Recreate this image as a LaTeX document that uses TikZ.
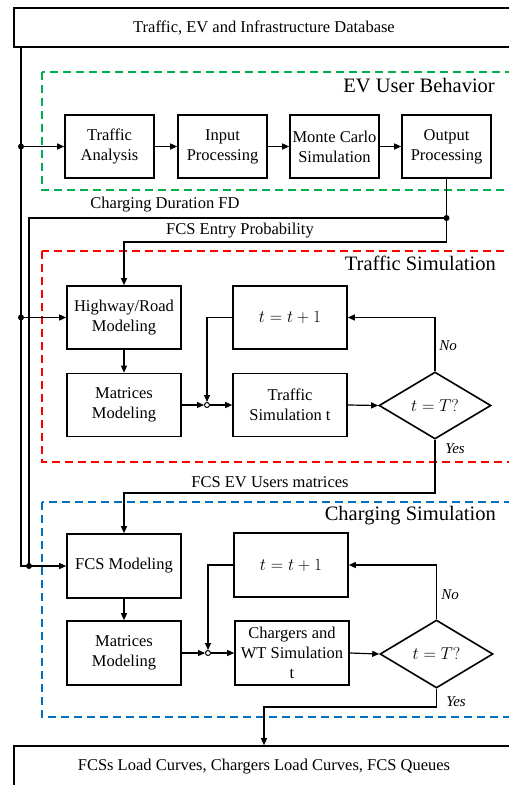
\documentclass[tikz,border=0pt]{standalone}
\usepackage{fontspec}
\setmainfont{Liberation Serif}
\usetikzlibrary{shapes.geometric,arrows.meta}
\definecolor{grpgreen}{RGB}{0,176,80}
\definecolor{grpred}{RGB}{255,0,0}
\definecolor{grpblue}{RGB}{0,112,192}
\begin{document}
\begin{tikzpicture}[x=1bp,y=-1bp,
  txt/.style={font=\fontsize{16.5bp}{20bp}\selectfont},
  mth/.style={font=\fontsize{17.5bp}{20bp}\selectfont},
  box/.style={txt,draw,line width=1.6bp,minimum width=114bp,minimum height=63bp,inner sep=1bp,align=center},
  sbox/.style={box,minimum width=89bp},
  wide/.style={txt,draw,line width=1.6bp,minimum width=500bp,inner sep=0pt},
  dec/.style={mth,draw,diamond,line width=1.6bp,minimum width=112bp,minimum height=67bp,inner sep=0pt},
  group/.style={dashed,line width=2bp,dash pattern=on 8bp off 5bp},
  title/.style={font=\fontsize{20.5bp}{24bp}\selectfont,anchor=east,inner sep=0pt},
  lbl/.style={txt,inner sep=0pt},
  yn/.style={font=\fontsize{15bp}{18bp}\selectfont\itshape,inner sep=0pt},
  conn/.style={line width=1.2bp},
  arr/.style={conn,-{Triangle[length=7bp,width=6bp]}},
  merge/.style={draw,circle,line width=1bp,fill=white,minimum size=5bp,inner sep=0pt},
  jdot/.style={fill,circle,inner sep=0pt,minimum size=6bp}
]
\clip (0,0) rectangle (509,785);

% group frames
\draw[group,grpgreen] (42,72) rectangle (530,190);
\draw[group,grpred]   (42,251) rectangle (530,462);
\draw[group,grpblue]  (42,502) rectangle (530,717);
\node[title] (tEV) at (495,86) {EV User Behavior};
\node[title] (tTS) at (496,263) {Traffic Simulation};
\node[title] (tCS) at (496,516) {Charging Simulation};

% database and results
\node[wide,minimum height=39bp] (db) at (264,27.5) {Traffic, EV and Infrastructure Database};
\node[wide,minimum height=42bp] (out) at (264,767) {FCSs Load Curves, Chargers Load Curves, FCS Queues};

% EV user behaviour chain
\node[sbox] (ta) at (109.5,146.5) {Traffic\\Analysis};
\node[sbox] (ip) at (222.5,146.5) {Input\\Processing};
\node[sbox] (mc) at (334.5,146.5) {Monte Carlo\\Simulation};
\node[sbox] (op) at (446.5,146.5) {Output\\Processing};

% traffic simulation
\node[box] (hr) at (124,317.5) {Highway/Road\\Modeling};
\node[box] (mm1) at (124,405) {Matrices\\Modeling};
\node[box,mth] (tp1) at (290,317.5) {$t = t + 1$};
\node[box] (ts) at (290,405) {Traffic\\Simulation t};
\node[dec] (d1) at (435,405.5) {$t = T?$};
\node[merge] (m1) at (207,405) {};

% charging simulation
\node[box,minimum height=64bp] (fcs) at (124,566) {FCS Modeling};
\node[box,minimum height=64bp] (mm2) at (124,653) {Matrices\\Modeling};
\node[box,mth,minimum height=64bp] (tp2) at (291,565) {$t = t + 1$};
\node[box,minimum height=64bp] (cs) at (292,653) {Chargers and\\WT Simulation\\t};
\node[dec,minimum width=113bp,minimum height=68bp] (d2) at (436.5,654) {$t = T?$};
\node[merge] (m2) at (208,653) {};

% junction points
\coordinate (j1) at (21,146.5);
\coordinate (j2) at (21,317.5);
\coordinate (j3) at (21,566);
\coordinate (j4) at (29,566);
\coordinate (jd) at (op.south |- 0,218);
\coordinate (b1) at (op.south |- 0,242);
\coordinate (b2) at (d1.south |- 0,493);
\coordinate (b3) at (d2.south |- 0,707);

% database feed
\draw[conn] (db.south -| j1) -- (j3) -- (j4);
\draw[arr] (j1) -- (ta.west);
\draw[arr] (j2) -- (hr.west);
\draw[arr] (j4) -- (fcs.west);

% EV chain
\draw[arr] (ta) -- (ip);
\draw[arr] (ip) -- (mc);
\draw[arr] (mc) -- (op);

% outputs of EV behaviour
\draw[arr] (op.south) -- (b1) -| (hr.north);
\draw[conn] (jd) -- (jd -| j4) -- (j4);
\node[lbl] (lcd) at (165,205) {Charging Duration FD};
\node[lbl] (lep) at (240,231) {FCS Entry Probability};

% traffic loop
\draw[arr] (hr) -- (mm1);
\draw[arr] (mm1.east) -- (m1);
\draw[arr] (m1) -- (ts.west);
\draw[arr] (ts.east) -- (d1.west);
\draw[arr] (d1.north) |- (tp1.east);
\draw[arr] (tp1.west) -| (m1);
\node[yn] (no1) at (448,346) {No};
\node[yn] (yes1) at (455,449) {Yes};
\draw[arr] (d1.south) -- (b2) -| (fcs.north);
\node[lbl] (lum) at (270,482) {FCS EV Users matrices};

% charging loop
\draw[arr] (fcs) -- (mm2);
\draw[arr] (mm2.east) -- (m2);
\draw[arr] (m2) -- (cs.west);
\draw[arr] (cs.east) -- (d2.west);
\draw[arr] (d2.north) |- (tp2.east);
\draw[arr] (tp2.west) -| (m2);
\node[yn] (no2) at (450,595) {No};
\node[yn] (yes2) at (456,702) {Yes};
\draw[arr] (d2.south) -- (b3) -| (out.north);

% junction dots
\node[jdot] (k1) at (j1) {};
\node[jdot] (k2) at (j2) {};
\node[jdot] (k4) at (j4) {};
\node[jdot] (kd) at (jd) {};
\end{tikzpicture}
\end{document}
